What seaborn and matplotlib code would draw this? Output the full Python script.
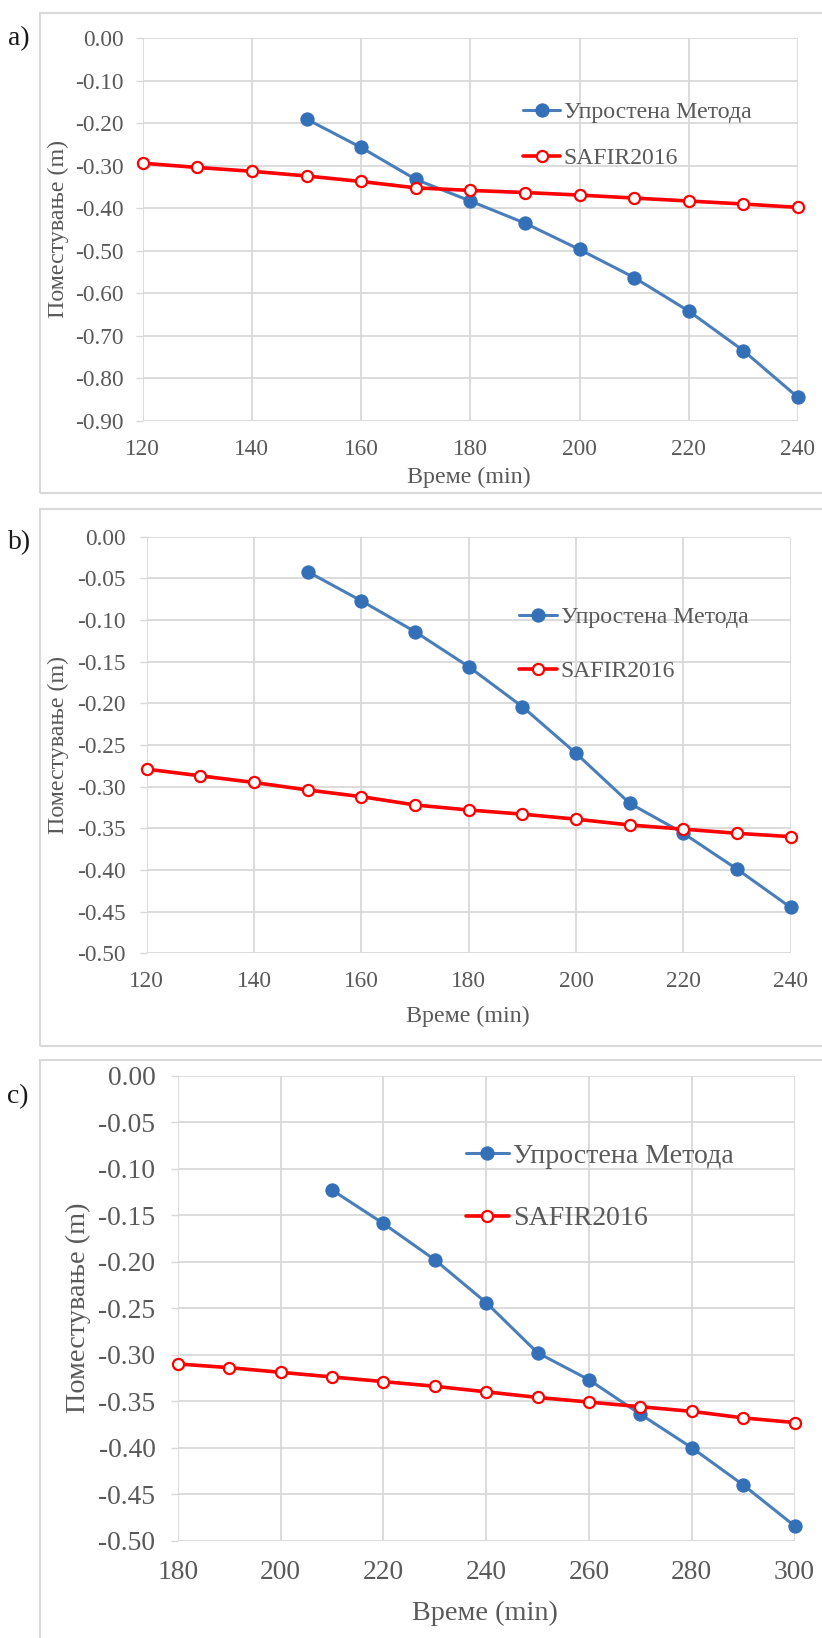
import matplotlib
matplotlib.use("Agg")
import matplotlib.pyplot as plt
from matplotlib.patches import Rectangle
from matplotlib.ticker import FormatStrFormatter, MultipleLocator
import seaborn as sns

# ---- data -------------------------------------------------------------
series_simplified = "Упростена Метода"
series_safir = "SAFIR2016"
x_label = "Време (min)"
y_label = "Поместување (m)"
panel_tags = ["a)", "b)", "c)"]

time_a_simplified = [150, 160, 170, 180, 190, 200, 210, 220, 230, 240]
disp_a_simplified = [-0.190, -0.257, -0.332, -0.383, -0.435, -0.497, -0.563, -0.642, -0.735, -0.845]
time_a_safir = [120, 130, 140, 150, 160, 170, 180, 190, 200, 210, 220, 230, 240]
disp_a_safir = [-0.294, -0.304, -0.313, -0.324, -0.337, -0.352, -0.358, -0.363, -0.369, -0.376, -0.383, -0.390, -0.398]

time_b_simplified = [150, 160, 170, 180, 190, 200, 210, 220, 230, 240]
disp_b_simplified = [-0.042, -0.077, -0.114, -0.156, -0.204, -0.260, -0.320, -0.356, -0.399, -0.445]
time_b_safir = [120, 130, 140, 150, 160, 170, 180, 190, 200, 210, 220, 230, 240]
disp_b_safir = [-0.279, -0.287, -0.295, -0.304, -0.312, -0.322, -0.328, -0.333, -0.339, -0.346, -0.351, -0.356, -0.360]

time_c_simplified = [210, 220, 230, 240, 250, 260, 270, 280, 290, 300]
disp_c_simplified = [-0.123, -0.159, -0.198, -0.244, -0.298, -0.327, -0.364, -0.400, -0.440, -0.484]
time_c_safir = [180, 190, 200, 210, 220, 230, 240, 250, 260, 270, 280, 290, 300]
disp_c_safir = [-0.310, -0.314, -0.319, -0.324, -0.329, -0.334, -0.340, -0.346, -0.351, -0.356, -0.361, -0.368, -0.373]

x_range_ab = (120, 240)
x_range_c = (180, 300)
y_range_a = (-0.90, 0.00)
y_range_bc = (-0.50, 0.00)

# ---- style ------------------------------------------------------------
sns.set_theme(style="white")
plt.rcParams["font.family"] = ["Liberation Serif", "DejaVu Serif"]
plt.rcParams["axes.unicode_minus"] = False

W, H = 822, 1638
DPI = 100
BLUE = "#4A7EBB"
BLUE_MK = "#3470B8"
RED = "#FF0000"
GRID = "#D9D9D9"
TEXT = "#595959"

fig = plt.figure(figsize=(W / DPI, H / DPI), dpi=DPI)
fig.patch.set_facecolor("white")


def frac_rect(x0, y0, x1, y1):
    """pixel box (top-left origin) -> figure fraction [l, b, w, h]"""
    return [x0 / W, 1 - y1 / H, (x1 - x0) / W, (y1 - y0) / H]


# outer frames of the three panels
for (y0, y1) in [(13.3, 493.3), (509.3, 1045.7), (1060, 1660)]:
    l, b, w, h = frac_rect(40, y0, 840, y1)
    fig.add_artist(Rectangle((l, b), w, h, transform=fig.transFigure,
                             fill=False, edgecolor=GRID, linewidth=1.5, zorder=0))

panels = [
    dict(rect=(142.7, 38.3, 797.9, 420.7), xr=x_range_ab, yr=y_range_a, ystep=0.10,
         ts=time_a_simplified, ds=disp_a_simplified, tf=time_a_safir, df=disp_a_safir,
         fs=16.8, ypad=9.0, xpad=13, xlab=(0.498, -0.148), ylab=(-0.128, 0.5),
         leg=(523.3, 135.5), hl=1.55, ls=1.04, tag=(19, 38.3)),
    dict(rect=(146.7, 536.7, 790.7, 953.3), xr=x_range_ab, yr=y_range_bc, ystep=0.05,
         ts=time_b_simplified, ds=disp_b_simplified, tf=time_b_safir, df=disp_b_safir,
         fs=16.8, ypad=10.0, xpad=13, xlab=(0.499, -0.1505), ylab=(-0.1366, 0.5),
         leg=(519, 644.3), hl=1.6, ls=1.35, tag=(20, 542.7)),
    dict(rect=(177.7, 1075.5, 794.5, 1540.7), xr=x_range_c, yr=y_range_bc, ystep=0.05,
         ts=time_c_simplified, ds=disp_c_simplified, tf=time_c_safir, df=disp_c_safir,
         fs=19.8, ypad=11.0, xpad=14, xlab=(0.498, -0.156), ylab=(-0.1605, 0.5),
         leg=(465.7, 1187.5), hl=1.54, ls=1.31, tag=(18, 1096.7)),
]

for i, p in enumerate(panels):
    ax = fig.add_axes(frac_rect(*p["rect"]))
    ax.set_facecolor("none")

    sns.lineplot(x=p["ts"], y=p["ds"], ax=ax, color=BLUE, linewidth=2.2,
                 marker="o", markersize=9.5, markerfacecolor=BLUE_MK,
                 markeredgecolor=BLUE_MK, markeredgewidth=0.8,
                 label=series_simplified, clip_on=False, zorder=3)
    sns.lineplot(x=p["tf"], y=p["df"], ax=ax, color=RED, linewidth=2.6,
                 marker="o", markersize=8.0, markerfacecolor="white",
                 markeredgecolor=RED, markeredgewidth=1.6,
                 label=series_safir, clip_on=False, zorder=4)

    ax.set_xlim(*p["xr"])
    ax.set_ylim(*p["yr"])
    ax.xaxis.set_major_locator(MultipleLocator(20))
    ax.yaxis.set_major_locator(MultipleLocator(p["ystep"]))
    ax.yaxis.set_major_formatter(FormatStrFormatter("%.2f"))

    for s in ax.spines.values():
        s.set_visible(False)
    ax.grid(True, color=GRID, linewidth=1.3)
    ax.set_axisbelow(True)

    ax.tick_params(axis="y", length=5, width=1.0, color=GRID, pad=p["ypad"],
                   labelsize=p["fs"], labelcolor=TEXT, left=True)
    ax.tick_params(axis="x", length=0, pad=p["xpad"],
                   labelsize=p["fs"], labelcolor=TEXT, bottom=False)

    ax.set_xlabel(x_label, fontsize=p["fs"] + 0.5, color=TEXT)
    ax.set_ylabel(y_label, fontsize=p["fs"] + 0.5, color=TEXT)
    ax.xaxis.set_label_coords(*p["xlab"])
    ax.xaxis.label.set_va("center")
    ax.yaxis.set_label_coords(*p["ylab"])
    ax.yaxis.label.set_va("center")

    lx, ly = p["leg"]
    ax.legend(loc="center left", bbox_to_anchor=(lx / W, 1 - ly / H),
              bbox_transform=fig.transFigure, frameon=False,
              fontsize=p["fs"] + 0.3, handlelength=p["hl"], handletextpad=0.15,
              labelspacing=p["ls"], borderpad=0, borderaxespad=0,
              labelcolor=TEXT, numpoints=1)

    tx, ty = p["tag"]
    fig.text(tx / W, 1 - ty / H, panel_tags[i], fontsize=20, color="#1A1A1A",
             ha="center", va="center")

fig.savefig("out.png", dpi=DPI, facecolor="white")
